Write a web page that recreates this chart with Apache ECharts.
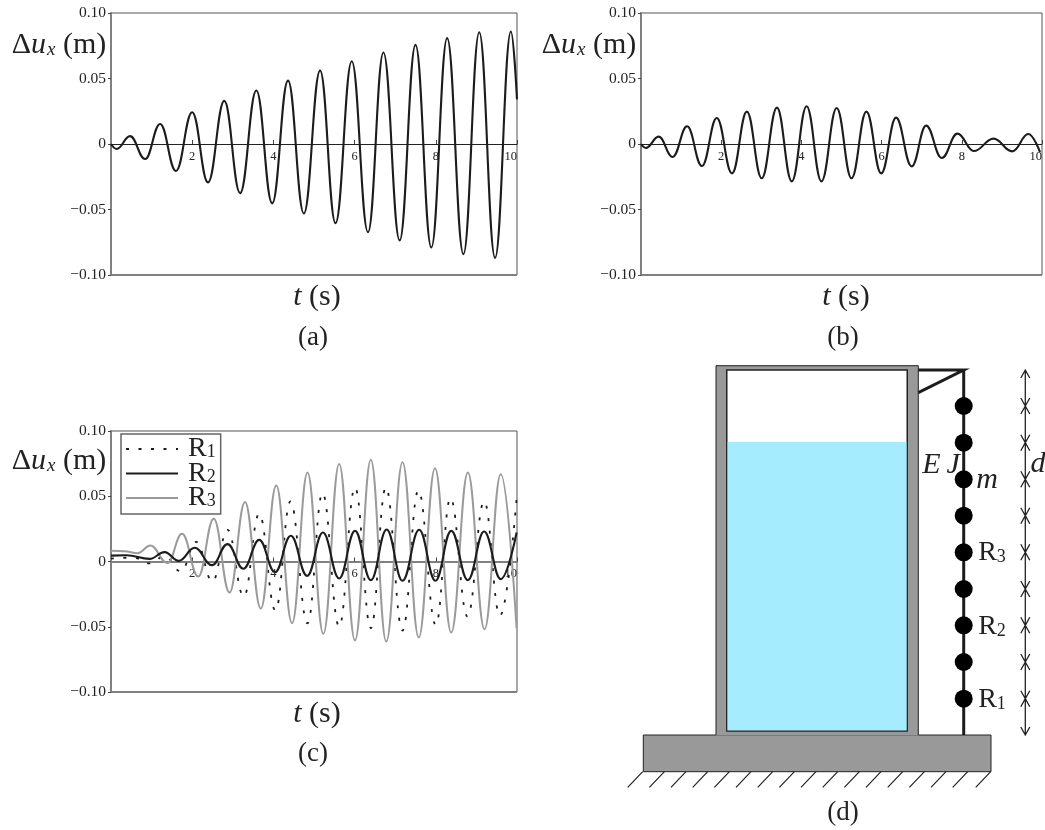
<!DOCTYPE html>
<html>
<head>
<meta charset="utf-8">
<style>html,body{margin:0;padding:0;background:#fff;overflow:hidden}#c{width:1045px;height:830px}</style>
<script src="https://cdn.jsdelivr.net/npm/echarts@6/dist/echarts.min.js"></script>
</head>
<body>
<div id="c"></div>
<script>
// Turning points: time (s) and displacement (m)
const tA = [0,0.14,0.47,0.84,1.21,1.6,2.0,2.39,2.79,3.18,3.58,3.97,4.36,4.75,5.15,5.53,5.93,6.33,6.71,7.11,7.5,7.89,8.28,8.68,9.07,9.46,9.85,10];
const yA = [0,-0.0038,0.006,-0.0115,0.0153,-0.0206,0.0242,-0.0293,0.0329,-0.0375,0.0408,-0.0453,0.0484,-0.053,0.056,-0.0604,0.0632,-0.0673,0.0698,-0.0736,0.0757,-0.079,0.0808,-0.0841,0.0853,-0.0869,0.0859,0.0341];
const tB = [0,0.12,0.44,0.79,1.15,1.52,1.89,2.27,2.64,3.01,3.39,3.76,4.13,4.5,4.88,5.25,5.62,5.99,6.36,6.75,7.11,7.5,7.89,8.3,8.79,9.26,9.66,9.95];
const yB = [0,-0.003,0.0056,-0.0099,0.0135,-0.0168,0.0199,-0.0224,0.0247,-0.0262,0.0278,-0.0285,0.0288,-0.0285,0.0275,-0.0262,0.0247,-0.0224,0.0201,-0.0171,0.014,-0.0107,0.0079,-0.0054,0.0041,-0.0056,0.0076,-0.0062];
const tR1 = [0,0.55,0.95,1.32,1.72,2.1,2.5,2.87,3.27,3.65,4.05,4.42,4.84,5.21,5.62,6.01,6.4,6.77,7.18,7.57,8.0,8.36,8.78,9.19,9.58,9.99];
const yR1 = [0.0022,0.003,-0.0015,0.004,-0.0075,0.015,-0.0153,0.0243,-0.0268,0.0365,-0.0375,0.046,-0.0473,0.0524,-0.0498,0.0567,-0.0511,0.0567,-0.0529,0.0544,-0.0485,0.0485,-0.0421,0.046,-0.0414,0.0478];
const tR2 = [0,0.38,0.95,1.32,1.67,2.06,2.49,2.87,3.26,3.65,4.04,4.43,4.83,5.22,5.62,6.01,6.4,6.79,7.18,7.59,7.99,8.38,8.79,9.19,9.6,9.99];
const yR2 = [0.0045,0.0048,0.002,0.0072,0.0005,0.0105,-0.0028,0.0133,-0.0056,0.0166,-0.0082,0.0197,-0.011,0.0222,-0.013,0.0235,-0.0143,0.0245,-0.0148,0.0243,-0.0148,0.0235,-0.0143,0.023,-0.0135,0.0222];
const tR3 = [0,0.33,0.66,0.97,1.39,1.75,2.15,2.53,2.92,3.3,3.69,4.07,4.46,4.84,5.23,5.62,6.01,6.4,6.78,7.18,7.58,7.98,8.38,8.79,9.2,9.6,9.99];
const yR3 = [0.0082,0.0079,0.0064,0.0123,-0.0013,0.0212,-0.0115,0.0327,-0.0238,0.0455,-0.036,0.0582,-0.0473,0.0682,-0.0554,0.0748,-0.0605,0.0779,-0.0613,0.0761,-0.0582,0.0715,-0.0544,0.0682,-0.0519,0.0669,-0.0511];
const xTicks = [2,4,6,8,10];
const yTickLabels = {'0.1':'0.10','0.05':'0.05','0':'0','-0.05':'\u22120.05','-0.1':'\u22120.10'};

// Schematic (d): diagram units
const slabRect = [[23.3,385,371,421.7]];
const wallRect = [[96,15.7,298.3,385.5]];
const cavityRect = [[106.7,20,287.3,381]];
const waterRect = [[106.7,92,287.3,381]];
const wallEdge = [[96,385],[96,15.7],[298.3,15.7],[298.3,385]];
const beamLine = [[343.7,20],[343.7,385]];
const bracketTop = [[298.3,20],[343.7,20],[298.3,42.6]];
const massX = [343.7,343.7,343.7,343.7,343.7,343.7,343.7,343.7,343.7];
const massY = [56,92.7,129.3,165.7,202.3,239,275.3,312,348.7];
const dimX = 405.3;
const hatchX = [22.7,44.4,66,87.7,109.4,131,152.7,174.4,196,217.7,239.4,261,282.7,304.4,326,347.7,370.7];

const SERIF = '"Liberation Serif", "DejaVu Serif", serif';
const INK = '#1c1c1c';
const GRIDS = [
  {left:111,top:13,width:406,height:262},
  {left:641,top:13,width:406,height:262},
  {left:111,top:431,width:406,height:261}
];
const zip = (a,b)=>a.map((v,i)=>[v,b[i]]);

function curve(name,ts,ys,idx,lineStyle,z,frame){
  const s = {name,type:'line',xAxisIndex:idx,yAxisIndex:idx,data:zip(ts,ys),showSymbol:false,symbol:'none',
    smooth:0.42,smoothMonotone:'x',lineStyle,z,silent:true};
  if(frame){
    s.markLine = {silent:true,symbol:'none',label:{show:false},animation:false,
      lineStyle:{color:'#808080',width:2,type:'solid'},data:[{yAxis:-0.1}]};
  }
  return s;
}
const mainStyle = {color:INK,width:2.1};
const xAxes = GRIDS.map((g,i)=>({
  gridIndex:i,type:'value',min:0,max:10,interval:2,
  axisLine:{show:true,onZero:true,lineStyle:i===2?{color:'#808080',width:2}:{color:'#222',width:1}},
  axisTick:{show:true,inside:true,length:4,lineStyle:{color:'#444',width:1}},
  axisLabel:{show:true,margin:6-g.height/2,fontFamily:SERIF,fontSize:12.5,color:'#222',showMinLabel:false,alignMaxLabel:'right',
    formatter:v=>xTicks.includes(v)?String(v):''},
  splitLine:{show:false}
}));
const yAxes = GRIDS.map((g,i)=>({
  gridIndex:i,type:'value',min:-0.1,max:0.1,interval:0.05,
  axisLine:{show:true,onZero:false,lineStyle:{color:'#808080',width:2}},
  axisTick:{show:true,length:3,lineStyle:{color:'#444',width:1}},
  axisLabel:{margin:5,fontFamily:SERIF,fontSize:15.5,color:'#222',formatter:v=>yTickLabels[String(+v.toFixed(2))]},
  splitLine:{show:false}
}));
// hidden pixel-sized axes for the schematic
xAxes.push({gridIndex:3,type:'value',min:0,max:425,show:false});
yAxes.push({gridIndex:3,type:'value',min:0,max:480,inverse:true,show:false});

function rects(name,data,fill,stroke,lw,z){
  return {name,type:'custom',xAxisIndex:3,yAxisIndex:3,z,silent:true,clip:false,data,
    encode:{x:[0,2],y:[1,3]},
    renderItem(p,api){
      const a=api.coord([api.value(0),api.value(1)]),b=api.coord([api.value(2),api.value(3)]);
      return {type:'rect',shape:{x:a[0],y:a[1],width:b[0]-a[0],height:b[1]-a[1]},
        style:{fill,stroke:stroke||null,lineWidth:lw||0}};
    }};
}
function poly(name,data,color,width,z){
  return {name,type:'line',xAxisIndex:3,yAxisIndex:3,data,showSymbol:false,symbol:'none',z,silent:true,clip:false,
    lineStyle:{color,width,join:'miter'},connectNulls:false};
}
const GAP=[null,null];
const hatchData=[];hatchX.forEach(x=>{hatchData.push([x,421.7],[x-15,437.3],GAP);});
const dimData=[[dimX,20],[dimX,385],GAP,[dimX-4.5,28],[dimX,20],[dimX+4.5,28],GAP,[dimX-4.5,377],[dimX,385],[dimX+4.5,377],GAP];
massY.forEach(y=>{dimData.push([dimX-4.5,y-8],[dimX,y],[dimX+4.5,y-8],GAP,[dimX-4.5,y+8],[dimX,y],[dimX+4.5,y+8],GAP);});

const rich = {
  n:{fontFamily:SERIF,fontSize:27,color:'#222'},
  L:{fontFamily:SERIF,fontSize:30,color:'#222'},
  i:{fontFamily:SERIF,fontSize:30,fontStyle:'italic',color:'#222'},
  s:{fontFamily:SERIF,fontSize:19,fontStyle:'italic',color:'#222',padding:[10,0,0,1]},
  R:{fontFamily:SERIF,fontSize:28,color:'#222'},
  b:{fontFamily:SERIF,fontSize:18,color:'#222',padding:[9,0,0,0]}
};
const label=(text,x,y,align)=>({text,left:x,top:y,padding:0,textAlign:align||'center',textVerticalAlign:'middle',
  textStyle:{rich,fontFamily:SERIF,fontSize:27,fontWeight:'normal',color:'#222'}});
const DU='{L|\u0394}{i|u}{s|x}{L| (m)}', TS='{i|t}{L| (s)}';

const option = {
  animation:false,backgroundColor:'#fff',
  title:[
    label(DU,59,45),label(DU,589,45),label(DU,59,461),
    label(TS,317,297),label(TS,846,297),label(TS,317,714),
    label('{n|(a)}',313,338),label('{n|(b)}',843,338),label('{n|(c)}',313,754),label('{n|(d)}',843,813),
    label('{i|E\u2009J}',941,465),label('{i|m}',987,480),label('{i|d}',1038,464),
    label('{R|R}{b|3}',992,553),label('{R|R}{b|2}',992,627),label('{R|R}{b|1}',992,700)
  ],
  grid:[
    ...GRIDS.map(g=>({...g,show:true,borderColor:'#555',borderWidth:1,backgroundColor:'transparent'})),
    {left:620,top:350,width:425,height:480}
  ],
  xAxis:xAxes,yAxis:yAxes,
  legend:{
    left:121,top:434,orient:'vertical',data:['R1','R2','R3'],selectedMode:false,
    backgroundColor:'#fff',borderColor:'#666',borderWidth:1.5,borderRadius:0,padding:[1,5,2,4],
    itemWidth:52,itemHeight:14,itemGap:-3.5,
    itemStyle:{color:'transparent',opacity:0,borderWidth:0},
    textStyle:{rich:{n:{fontFamily:SERIF,fontSize:28,lineHeight:25,color:'#222',padding:[0,0,0,5]},b:{fontFamily:SERIF,fontSize:18,lineHeight:18,color:'#222',padding:[7,0,0,0]}}},
    formatter:n=>'{n|R}{b|'+n.slice(1)+'}'
  },
  series:[
    curve('a',tA,yA,0,mainStyle,3,true),
    curve('b',tB,yB,1,mainStyle,3,true),
    curve('R1',tR1,yR1,2,{color:INK,width:1.8,type:[3,9.5]},3,true),
    curve('R3',tR3,yR3,2,{color:'#9a9a9a',width:2},4),
    curve('R2',tR2,yR2,2,{color:INK,width:2.1},5),
    rects('slab',slabRect,'#999999','#222',1,2),
    rects('wall',wallRect,'#999999',null,0,3),
    poly('wallEdge',wallEdge,'#222',1,4),
    rects('cavity',cavityRect,'#ffffff','#222',1.2,5),
    rects('water',waterRect,'#a6ecff',null,0,6),
    rects('cavityEdge',cavityRect,'transparent','#222',1.2,7),
    poly('beam',beamLine,INK,3,8),
    poly('bracket',bracketTop,INK,3,8),
    {name:'masses',type:'scatter',xAxisIndex:3,yAxisIndex:3,data:zip(massX,massY),symbol:'circle',symbolSize:18,
      itemStyle:{color:'#000',opacity:1},z:9,silent:true,clip:false},
    poly('hatch',hatchData,'#222',1.2,4),
    poly('dimension',dimData,'#222',1.3,4)
  ]
};
const chart = echarts.init(document.getElementById('c'),null,{renderer:'canvas',width:1045,height:830});
chart.setOption(option);
</script>
</body>
</html>
